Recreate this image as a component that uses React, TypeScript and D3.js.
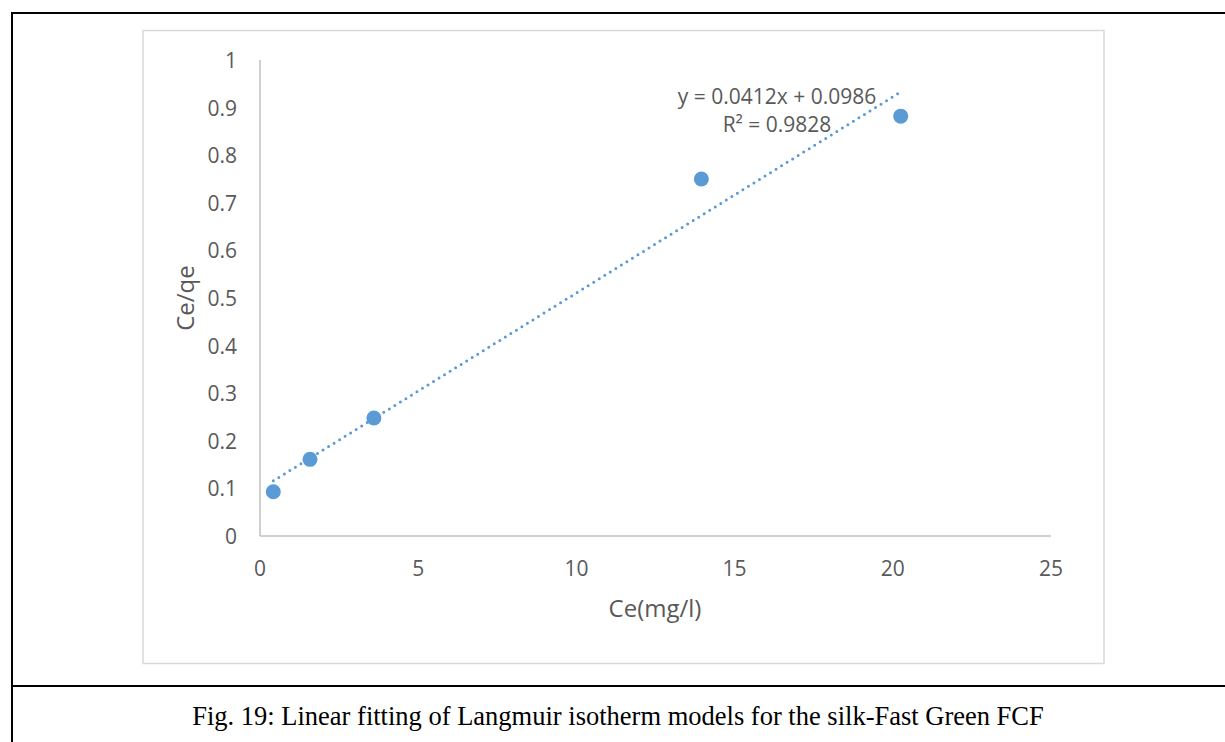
import React from "react";
import * as d3 from "d3";

const ceValues = [0.42, 1.58, 3.6, 13.95, 20.25];
const ceQeValues = [0.093, 0.161, 0.248, 0.75, 0.882];
const xTicks = [0, 5, 10, 15, 20, 25];
const yTicks = [0, 0.1, 0.2, 0.3, 0.4, 0.5, 0.6, 0.7, 0.8, 0.9, 1];
const slope = 0.0412;
const intercept = 0.0986;
const eqLabel = "y = 0.0412x + 0.0986";
const r2Label = "R² = 0.9828";
const xTitle = "Ce(mg/l)";
const yTitle = "Ce/qe";
const caption = "Fig. 19: Linear fitting of Langmuir isotherm models for the silk-Fast Green FCF";

const W = 1225;
const H = 742;
const BLUE = "#5b9bd5";
const TXT = "#595959";
const FONT = "'Open Sans', 'Noto Sans', sans-serif";

export default function App() {
  const x = d3.scaleLinear().domain([0, 25]).range([260, 1051]);
  const y = d3.scaleLinear().domain([0, 1]).range([536, 60]);
  const xMin = d3.min(ceValues) as number;
  const xMax = d3.max(ceValues) as number;
  const line = d3
    .line<number>()
    .x((d) => x(d))
    .y((d) => y(slope * d + intercept));

  return (
    <svg
      width={W}
      height={H}
      style={{ position: "absolute", left: 0, top: 0, background: "#fff" }}
    >
      {/* outer document frame */}
      <line x1={12} y1={13} x2={W} y2={13} stroke="#000" strokeWidth={2} />
      <line x1={12} y1={12} x2={12} y2={H} stroke="#000" strokeWidth={2} />
      <line x1={12} y1={686} x2={W} y2={686} stroke="#000" strokeWidth={2} />
      {/* chart area border */}
      <rect x={143} y={30.5} width={961} height={633} fill="#fff" stroke="#d9d9d9" strokeWidth={1.5} />
      {/* axes */}
      <line x1={x(0)} y1={y(0)} x2={x(25)} y2={y(0)} stroke="#bfbfbf" strokeWidth={1.5} />
      <line x1={x(0)} y1={y(0)} x2={x(0)} y2={y(1)} stroke="#bfbfbf" strokeWidth={1.5} />
      {/* y tick labels */}
      {yTicks.map((t) => (
        <text
          key={"y" + t}
          x={237}
          y={y(t)}
          textAnchor="end"
          dominantBaseline="central"
          fontFamily={FONT}
          fontSize={21}
          fill={TXT}
        >
          {String(t)}
        </text>
      ))}
      {/* x tick labels */}
      {xTicks.map((t) => (
        <text
          key={"x" + t}
          x={x(t)}
          y={568}
          textAnchor="middle"
          dominantBaseline="central"
          fontFamily={FONT}
          fontSize={21}
          fill={TXT}
        >
          {String(t)}
        </text>
      ))}
      {/* axis titles */}
      <text
        x={655}
        y={607}
        textAnchor="middle"
        dominantBaseline="central"
        fontFamily={FONT}
        fontSize={24}
        fill={TXT}
      >
        {xTitle}
      </text>
      <text
        transform="translate(184,298) rotate(-90)"
        textAnchor="middle"
        dominantBaseline="central"
        fontFamily={FONT}
        fontSize={24}
        fill={TXT}
      >
        {yTitle}
      </text>
      {/* trendline */}
      <path
        d={line([xMin, xMax]) || ""}
        fill="none"
        stroke={BLUE}
        strokeWidth={3}
        strokeDasharray="0 6.5"
        strokeLinecap="round"
      />
      {/* points */}
      {ceValues.map((v, i) => (
        <circle key={i} cx={x(v)} cy={y(ceQeValues[i])} r={7.5} fill={BLUE} />
      ))}
      {/* equation */}
      <text
        x={777}
        y={96}
        textAnchor="middle"
        dominantBaseline="central"
        fontFamily={FONT}
        fontSize={21}
        fill={TXT}
      >
        {eqLabel}
      </text>
      <text
        x={777}
        y={124}
        textAnchor="middle"
        dominantBaseline="central"
        fontFamily={FONT}
        fontSize={21}
        fill={TXT}
      >
        {r2Label}
      </text>
      {/* caption */}
      <text
        x={618}
        y={716}
        textAnchor="middle"
        dominantBaseline="central"
        fontFamily="'Liberation Serif', 'Times New Roman', serif"
        fontSize={26.5}
        fill="#000"
      >
        {caption}
      </text>
    </svg>
  );
}
